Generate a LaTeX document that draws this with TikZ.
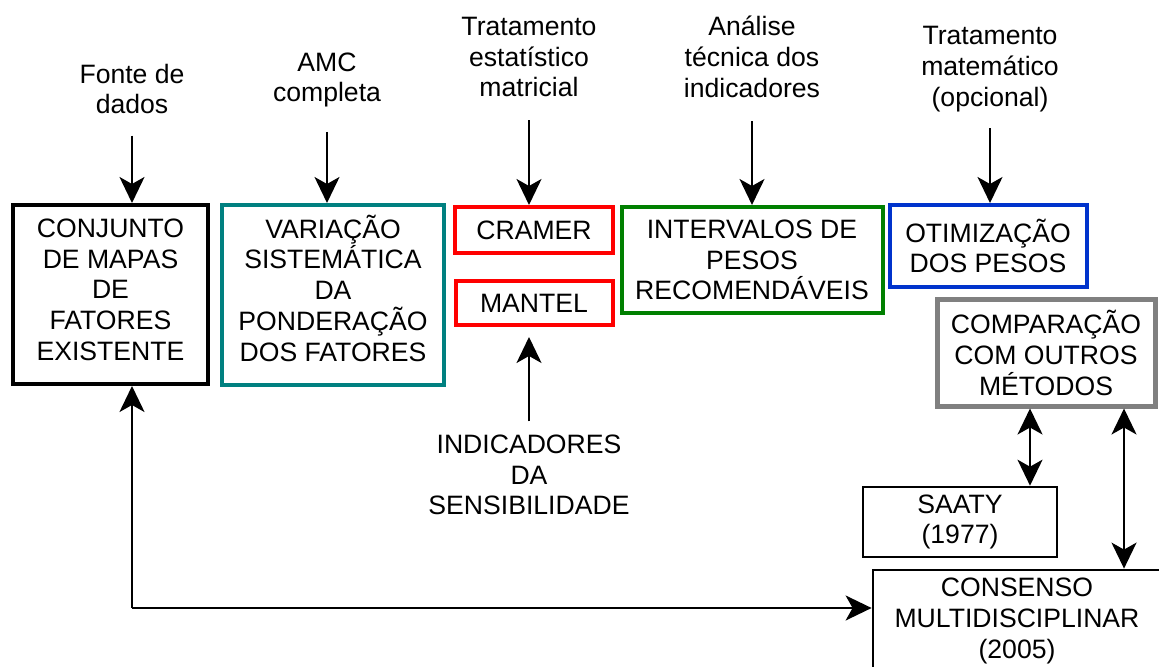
\documentclass[tikz,border=0pt]{standalone}
\usepackage{fontspec}
\setmainfont{Liberation Sans}
\usetikzlibrary{arrows.meta,positioning}
\definecolor{verdeazul}{RGB}{0,128,128}
\definecolor{verde}{RGB}{0,128,0}
\definecolor{azul}{RGB}{0,51,204}
\definecolor{cinza}{RGB}{128,128,128}
\newcommand{\fonteDiag}{\fontsize{13.3}{15.35}\selectfont}

\tikzset{
  caixa/.style={draw, line width=2pt, align=center, inner sep=0pt, font=\fonteDiag},
  rotulo/.style={align=center, inner sep=0pt, font=\fonteDiag},
  ponta/.tip={Stealth[length=13pt,width=12.5pt,inset=3.5pt]},
  seta/.style={line width=1pt, -ponta},
  setadupla/.style={line width=1pt, ponta-ponta},
}

\begin{document}
\begin{tikzpicture}[x=0.5pt, y=-0.5pt]
  \useasboundingbox (0,0) rectangle (1159,667);
  \fill[white] (0,0) rectangle (1159,667);

  % caixas
  \node[caixa, text depth=5pt, minimum width=97.5pt, minimum height=89.5pt] (conj) at (110.5,294.5)
    {CONJUNTO\\DE MAPAS\\DE\\FATORES\\EXISTENTE};
  \node[caixa, draw=verdeazul, text depth=7pt, minimum width=111pt, minimum height=90pt] (varia) at (333,295)
    {VARIAÇÃO\\SISTEMÁTICA\\DA\\PONDERAÇÃO\\DOS FATORES};
  \node[caixa, draw=red, minimum width=79pt, minimum height=23pt] (cramer) at (534,230) {CRAMER};
  \node[caixa, draw=red, minimum width=78.5pt, minimum height=22pt] (mantel) at (534,303) {MANTEL};
  \node[caixa, draw=verde, minimum width=130.5pt, minimum height=53pt] (interv) at (752,260)
    {INTERVALOS DE\\PESOS\\RECOMENDÁVEIS};
  \node[caixa, draw=azul, minimum width=98.5pt, minimum height=41pt] (otim) at (988,246)
    {OTIMIZAÇÃO\\DOS PESOS};
  \node[caixa, draw=cinza, line width=2.5pt, minimum width=109pt, minimum height=53pt] (comp) at (1046,353)
    {COMPARAÇÃO\\COM OUTROS\\MÉTODOS};
  \node[caixa, line width=1.3pt, minimum width=97pt, minimum height=35pt] (saaty) at (960,522)
    {SAATY\\(1977)};
  \node[caixa, line width=1.4pt, minimum width=144pt, minimum height=51pt] (cons) at (1017,621)
    {CONSENSO\\MULTIDISCIPLINAR\\(2005)};

  % rotulos
  \node[rotulo] (fonte) at (132,89) {Fonte de\\dados};
  \node[rotulo] (amc) at (327,80) {AMC\\completa};
  \node[rotulo] (trat) at (529,57) {Tratamento\\estatístico\\matricial};
  \node[rotulo] (anal) at (752,57) {Análise\\técnica dos\\indicadores};
  \node[rotulo] (matem) at (990,69) {Tratamento\\matemático\\(opcional)};
  \node[rotulo] (indic) at (529,475) {INDICADORES\\DA\\SENSIBILIDADE};

  % setas
  \draw[seta, shorten <=10.5pt] (fonte) -- (fonte |- conj.north);
  \draw[seta, shorten <=12pt] (amc) -- (amc |- varia.north);
  \draw[seta, shorten <=11.5pt] (trat) -- (trat |- cramer.north);
  \draw[seta, shorten <=11.5pt] (anal) -- (anal |- interv.north);
  \draw[seta, shorten <=8pt] (matem) -- (matem |- otim.north);
  \draw[seta, shorten <=6.5pt, shorten >=5pt] (indic) -- (indic |- mantel.south);

  \coordinate (canto) at (132,608);
  \draw[seta] (canto) -- (canto |- conj.south);
  \draw[seta] (canto) -- (canto -| cons.west);

  \draw[setadupla] ([xshift=-8pt]comp.south) -- ([xshift=-8pt]comp.south |- saaty.north);
  \draw[setadupla] ([xshift=39pt]comp.south) -- ([xshift=39pt]comp.south |- cons.north);
\end{tikzpicture}
\end{document}
